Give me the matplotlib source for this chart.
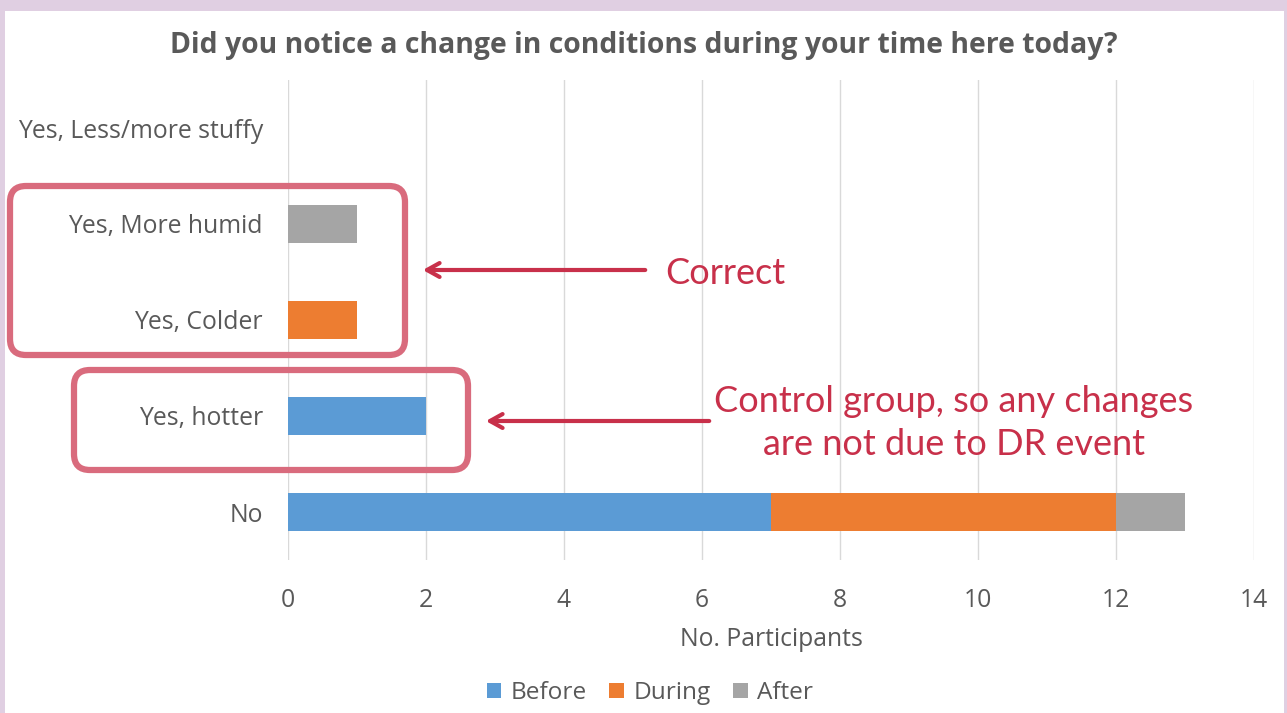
import matplotlib
matplotlib.use('Agg')
import matplotlib.pyplot as plt
from matplotlib.patches import FancyBboxPatch, Rectangle

categories = ['No', 'Yes, hotter', 'Yes, Colder', 'Yes, More humid', 'Yes, Less/more stuffy']
before = [7, 2, 0, 0, 0]
during = [5, 0, 1, 0, 0]
after = [1, 0, 0, 1, 0]
series_names = ['Before', 'During', 'After']
series_colors = ['#5b9bd5', '#ed7d31', '#a5a5a5']
xticks = [0, 2, 4, 6, 8, 10, 12, 14]

W, H = 1287, 713
plt.rcParams['font.family'] = ['Open Sans', 'DejaVu Sans']
text_gray = '#595959'
red = '#c8304a'
box_red = '#d96b7d'

fig = plt.figure(figsize=(W / 100, H / 100), dpi=100)
fig.patch.set_facecolor('white')

# purple frame around the slide
bg = fig.add_axes([0, 0, 1, 1])
bg.set_xlim(0, W)
bg.set_ylim(H, 0)
bg.axis('off')
frame = '#e0cfe2'
bg.add_patch(Rectangle((0, 0), W, 11, color=frame, lw=0))
bg.add_patch(Rectangle((0, 0), 5, H, color=frame, lw=0))
bg.add_patch(Rectangle((W - 3, 0), 3, H, color=frame, lw=0))

ax = fig.add_axes([288 / W, 1 - 560 / H, 966 / W, 480 / H])
ypos = list(range(len(categories)))
left = [0] * len(categories)
for name, vals, col in zip(series_names, [before, during, after], series_colors):
    ax.barh(ypos, vals, left=left, height=0.4, color=col, label=name, zorder=3)
    left = [a + b for a, b in zip(left, vals)]

ax.set_xlim(0, 14)
ax.set_ylim(-0.5, len(categories) - 0.5)
ax.set_xticks(xticks)
ax.set_yticks(ypos)
ax.set_yticklabels(categories)
ax.tick_params(axis='both', length=0, labelsize=17.8, colors=text_gray)
ax.tick_params(axis='y', pad=18)
ax.tick_params(axis='x', pad=20)
ax.grid(axis='x', color='#d9d9d9', lw=1, zorder=0)
for s in ax.spines.values():
    s.set_visible(False)
ax.set_xlabel('No. Participants', fontsize=17.8, color=text_gray, labelpad=10)

fig.text(644 / W, 1 - 45 / H, 'Did you notice a change in conditions during your time here today?',
         ha='center', va='center', fontsize=20.4, fontweight='bold', color=text_gray)

leg = fig.legend(loc='center', bbox_to_anchor=(650 / W, 1 - 693 / H), ncol=3, frameon=False,
                 fontsize=17.6, handlelength=0.6, handleheight=0.6, handletextpad=0.4,
                 columnspacing=0.9)
for t in leg.get_texts():
    t.set_color(text_gray)

# overlay annotations in pixel coordinates
ov = fig.add_axes([0, 0, 1, 1])
ov.set_xlim(0, W)
ov.set_ylim(H, 0)
ov.axis('off')
ov.patch.set_alpha(0)

ov.add_patch(FancyBboxPatch((10, 186), 395, 169, boxstyle='round,pad=0,rounding_size=16',
                            fill=False, ec=box_red, lw=4.5))
ov.add_patch(FancyBboxPatch((74, 370), 394, 100, boxstyle='round,pad=0,rounding_size=16',
                            fill=False, ec=box_red, lw=4.5))

ov.annotate('', xy=(420, 270), xytext=(648, 270),
            arrowprops=dict(arrowstyle='->,head_length=0.9,head_width=0.5', color=red, lw=3))
ov.annotate('', xy=(483, 421), xytext=(712, 421),
            arrowprops=dict(arrowstyle='->,head_length=0.9,head_width=0.5', color=red, lw=3))

ov.text(665, 273, 'Correct', ha='left', va='center', fontsize=26, color=red, family=['Lato', 'DejaVu Sans'])
ov.text(954, 423, 'Control group, so any changes\nare not due to DR event', ha='center', va='center',
        fontsize=26, color=red, linespacing=1.4, family=['Lato', 'DejaVu Sans'])

fig.savefig('out.png', dpi=100, facecolor='white')
